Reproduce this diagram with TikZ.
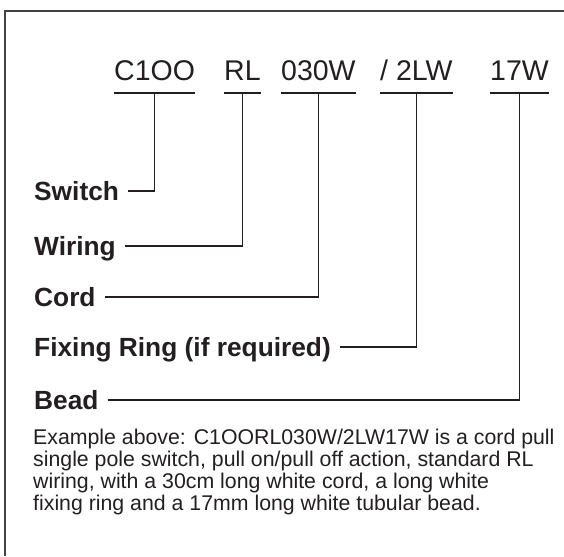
\documentclass[tikz,border=0pt]{standalone}
\usepackage{fontspec}
\setmainfont{Liberation Sans}
\definecolor{ink}{HTML}{231F20}
\begin{document}
\begin{tikzpicture}[x=1pt,y=-1pt,
  code/.style={anchor=base west, inner sep=0pt, font=\fontsize{28.5}{30}\selectfont, text=ink},
  lab/.style={anchor=west, inner sep=0pt, text height=18.5pt, text depth=0pt, font=\fontsize{26.3}{28}\selectfont\bfseries, text=ink},
  lead/.style={draw=ink, line width=1.6pt},
  frame/.style={draw=ink!85, line width=2pt},
  note/.style={anchor=base west, inner sep=0pt, align=left, font=\fontsize{21.3}{22}\selectfont, text=ink}]
\useasboundingbox (0,0) rectangle (564,556);
\draw[frame] (5,556) -- (5,11) -- (564,11);
\node[code] (c1) at (114,81) {C1OO};
\node[code] (c2) at (224,81) {RL};
\node[code] (c3) at (281,81) {030W};
\node[code] (c4) at (380,81) {/ 2LW};
\node[code] (c5) at (490,81) {17W};
\foreach \i in {1,...,5} {
  \draw[lead] ([yshift=-12pt]c\i.base west) -- ([yshift=-12pt]c\i.base east);
  \coordinate (u\i) at ([yshift=-12pt]c\i.base);
}
\node[lab] (l1) at (34,191) {Switch};
\node[lab] (l2) at (34,246) {Wiring};
\node[lab] (l3) at (34,297) {Cord};
\node[lab] (l4) at (34,347) {Fixing Ring (if required)};
\node[lab] (l5) at (34,400) {Bead};
\foreach \i in {1,...,5} {
  \draw[lead] ([xshift=9pt]l\i.east) -| (u\i);
}
\node[note] (ex) at (33,510) {Example above: C1OORL030W/2LW17W is a cord pull\\
single pole switch, pull on/pull off action, standard RL\\
wiring, with a 30cm long white cord, a long white\\
fixing ring and a 17mm long white tubular bead.};
\end{tikzpicture}
\end{document}
